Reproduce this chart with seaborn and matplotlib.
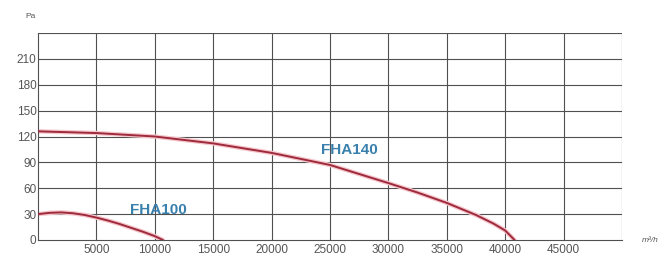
import matplotlib
matplotlib.use("Agg")
import matplotlib.pyplot as plt
import pandas as pd
import seaborn as sns

# FHA140 curve (airflow m3/h, pressure Pa)
fha140_flow = [0, 5000, 10000, 15000, 20000, 25000, 30000, 32500, 35000,
               37500, 39000, 40000, 40800]
fha140_pa = [126, 124, 120, 112, 101, 87, 66, 55, 43, 29, 19, 11, 0]

# FHA100 curve
fha100_flow = [0, 1000, 2000, 3000, 4000, 5000, 6000, 7000, 8000, 9000,
               10000, 10700]
fha100_pa = [30, 31.5, 32, 31, 29, 26, 22.5, 18.5, 14, 9.5, 4.5, 0]

x_ticks = [5000, 10000, 15000, 20000, 25000, 30000, 35000, 40000, 45000]
y_ticks = [0, 30, 60, 90, 120, 150, 180, 210]


def main():
    sns.set_style("white")
    plt.rcParams["font.family"] = ["Liberation Sans", "DejaVu Sans"]

    df = pd.concat([
        pd.DataFrame({"flow": fha140_flow, "pa": fha140_pa, "model": "FHA140"}),
        pd.DataFrame({"flow": fha100_flow, "pa": fha100_pa, "model": "FHA100"}),
    ])

    fig = plt.figure(figsize=(6.67, 2.59), dpi=100)
    ax = fig.add_axes([38 / 667, 1 - 240 / 259, 584 / 667, 207 / 259])

    # grid
    for gx in range(5000, 50001, 5000):
        ax.axvline(gx, color="#505050", lw=0.8, zorder=1)
    for gy in range(30, 241, 30):
        ax.axhline(gy, color="#505050", lw=0.8, zorder=1)

    # pink halo under the curves
    sns.lineplot(data=df, x="flow", y="pa", units="model", estimator=None,
                 color="#f5c6cc", lw=3.2, ax=ax, zorder=2)
    sns.lineplot(data=df, x="flow", y="pa", units="model", estimator=None,
                 color="#9e2a3c", lw=1.4, ax=ax, zorder=3)

    ax.set_xlim(0, 50000)
    ax.set_ylim(0, 240)
    ax.set_xticks(x_ticks)
    ax.set_yticks(y_ticks)
    ax.set_xticklabels([str(v) for v in x_ticks])
    ax.set_yticklabels([str(v) for v in y_ticks])
    ax.tick_params(axis="both", length=0, labelsize=8.5, colors="#555555")
    ax.tick_params(axis="y", pad=1)
    ax.tick_params(axis="x", pad=3)
    ax.set_xlabel("")
    ax.set_ylabel("")

    for side in ["top", "right"]:
        ax.spines[side].set_visible(False)
    for side in ["left", "bottom"]:
        ax.spines[side].set_color("#505050")
        ax.spines[side].set_linewidth(0.8)

    ax.text(26700, 104, "FHA140", color="#3a80ad", fontsize=11,
            fontweight="bold", ha="center", va="center", zorder=4)
    ax.text(10300, 35, "FHA100", color="#3a80ad", fontsize=11,
            fontweight="bold", ha="center", va="center", zorder=4)

    fig.text(30 / 667, 1 - 16 / 259, "Pa", fontsize=6, color="#555555",
             ha="center", va="center")
    fig.text(650 / 667, 1 - 241 / 259, "m³/h", fontsize=6, color="#555555",
             ha="center", va="center", style="italic")

    fig.savefig("out.png", dpi=100)
    plt.close(fig)


if __name__ == "__main__":
    main()
